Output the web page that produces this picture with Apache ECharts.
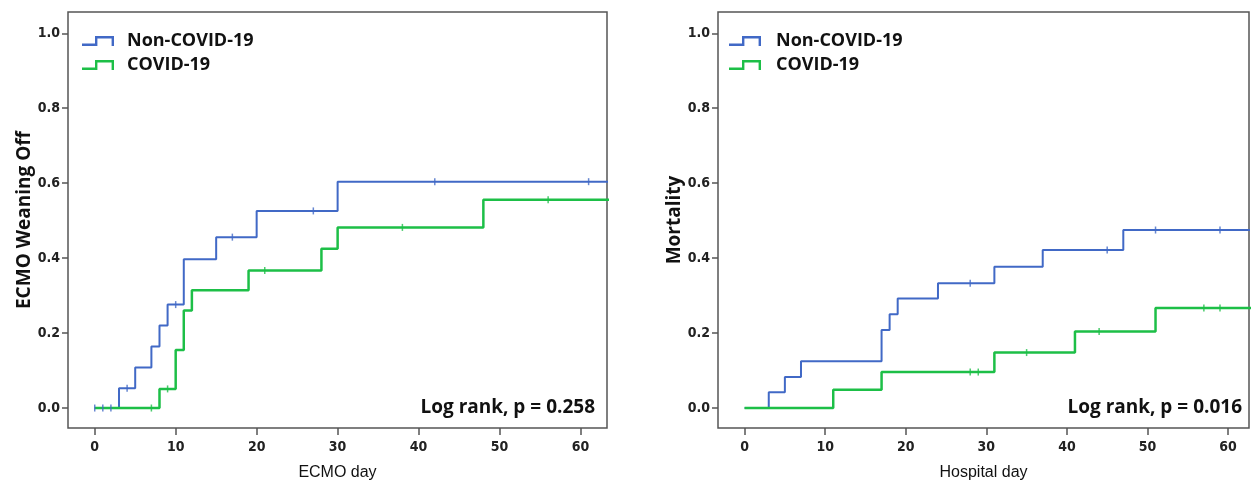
<!DOCTYPE html>
<html>
<head>
<meta charset="utf-8">
<title>ECMO weaning off / mortality</title>
<script src="https://cdn.jsdelivr.net/npm/echarts@6/dist/echarts.min.js"></script>
<style>
html, body { margin: 0; padding: 0; background: #fff; }
#chart { width: 1255px; height: 481px; }
</style>
</head>
<body>
<div id="chart"></div>
<script>
var groups = ['Non-COVID-19', 'COVID-19']
var xTicks = [0, 10, 20, 30, 40, 50, 60]
var yTicks = [0, 0.2, 0.4, 0.6, 0.8, 1.0]

// ECMO weaning off (left): step times and cumulative values
var ecmoNonDays = [0, 3, 5, 7, 8, 9, 11, 15, 20, 30, 66]
var ecmoNonVals = [0, 0.053, 0.108, 0.164, 0.22, 0.276, 0.397, 0.456, 0.526, 0.604, 0.604]
var ecmoNonCensor = [0, 1, 2, 4, 10, 17, 27, 42, 61]
var ecmoCovDays = [0, 8, 10, 11, 12, 19, 28, 30, 48, 66]
var ecmoCovVals = [0, 0.051, 0.155, 0.26, 0.314, 0.367, 0.425, 0.482, 0.556, 0.556]
var ecmoCovCensor = [7, 9, 21, 38, 56]

// Mortality (right)
var mortNonDays = [0, 3, 5, 7, 17, 18, 19, 24, 31, 37, 47, 66]
var mortNonVals = [0, 0.042, 0.083, 0.125, 0.208, 0.25, 0.292, 0.333, 0.377, 0.422, 0.475, 0.475]
var mortNonCensor = [28, 45, 51, 59]
var mortCovDays = [0, 11, 17, 31, 41, 51, 66]
var mortCovVals = [0, 0.049, 0.096, 0.148, 0.204, 0.267, 0.267]
var mortCovCensor = [28, 29, 35, 44, 57, 59]

var pValues = ['Log rank, p = 0.258', 'Log rank, p = 0.016']

var blue = '#4169c6'
var green = '#1dbf47'
var tickFont = "'Liberation Sans Narrow', 'Arial Narrow', 'DejaVu Sans Condensed', sans-serif"
var textFont = "'Open Sans', 'Noto Sans', sans-serif"
var stepIcon = 'path://M0,7.6 L13,7.6 L13,0 L32,0 L32,10 L29.6,10 L29.6,2.4 L15.4,2.4 L15.4,10 L0,10 Z'

function pairs(days, vals) {
  var out = []
  for (var i = 0; i < days.length; i++) {
    out.push([days[i], vals[i]])
  }
  return out
}

// censored marks sit on the curve at their time
function censorPoints(times, days, vals) {
  var out = []
  for (var i = 0; i < times.length; i++) {
    var v = vals[0]
    for (var j = 0; j < days.length; j++) {
      if (days[j] <= times[i]) v = vals[j]
    }
    out.push([times[i], v])
  }
  return out
}

function curve(name, days, vals, color, width, idx) {
  return {
    name: name,
    type: 'line',
    step: 'end',
    xAxisIndex: idx,
    yAxisIndex: idx,
    showSymbol: false,
    clip: true,
    color: color,
    lineStyle: { color: color, width: width },
    data: pairs(days, vals),
  }
}

function censor(name, times, days, vals, color, idx) {
  return {
    name: name + ' censored',
    type: 'scatter',
    xAxisIndex: idx,
    yAxisIndex: idx,
    symbol: 'rect',
    symbolSize: [1.5, 7],
    silent: true,
    z: 3,
    itemStyle: { color: color },
    data: censorPoints(times, days, vals),
  }
}

function xAxis(idx, max, name) {
  return {
    type: 'value',
    gridIndex: idx,
    min: -3.3,
    max: max,
    name: name,
    nameLocation: 'middle',
    nameGap: 37,
    nameTextStyle: { fontSize: 16, fontFamily: "'Liberation Sans', Arial, sans-serif", color: '#111' },
    axisLine: { show: false, onZero: false },
    splitLine: { show: false },
    axisTick: { show: true, customValues: xTicks, length: 7, lineStyle: { color: '#555', width: 1.5 } },
    axisLabel: {
      customValues: xTicks,
      margin: 12,
      fontSize: 14,
      fontWeight: 'bold',
      fontFamily: tickFont,
      color: '#222',
    },
  }
}

function yAxis(idx, name) {
  return {
    type: 'value',
    gridIndex: idx,
    min: -0.0533,
    max: 1.0568,
    name: name,
    nameLocation: 'middle',
    nameGap: 34,
    nameTextStyle: { fontSize: 19, fontWeight: 'bold', fontFamily: textFont, color: '#111' },
    axisLine: { show: false, onZero: false },
    splitLine: { show: false },
    axisTick: { show: true, customValues: yTicks, length: 6, lineStyle: { color: '#555', width: 1.5 } },
    axisLabel: {
      customValues: yTicks,
      margin: 8,
      fontSize: 14,
      fontWeight: 'bold',
      fontFamily: tickFont,
      color: '#222',
      formatter: function (v) {
        return v.toFixed(1)
      },
    },
  }
}

function legend(left, gap) {
  return {
    left: left,
    top: 31,
    orient: 'vertical',
    padding: 0,
    itemWidth: 32,
    itemHeight: 10,
    itemGap: 4,
    icon: stepIcon,
    selectedMode: false,
    data: groups,
    textStyle: {
      fontSize: 18,
      fontWeight: 'bold',
      fontFamily: textFont,
      color: '#111',
      lineHeight: 20,
      padding: [0, 0, 0, gap],
    },
  }
}

var gridBase = {
  show: true,
  top: 12,
  height: 416,
  outerBoundsMode: 'none',
  containLabel: false,
  borderColor: '#555',
  borderWidth: 1.5,
  backgroundColor: '#fff',
}

var chart = echarts.init(document.getElementById('chart'))
chart.setOption({
  animation: false,
  backgroundColor: '#fff',
  color: [blue, green],
  grid: [
    Object.assign({ left: 68, width: 539 }, gridBase),
    Object.assign({ left: 718, width: 531 }, gridBase),
  ],
  xAxis: [xAxis(0, 63.27, 'ECMO day'), xAxis(1, 62.6, 'Hospital day')],
  yAxis: [yAxis(0, 'ECMO Weaning Off'), yAxis(1, 'Mortality')],
  legend: [legend(82, 8), legend(729, 10)],
  graphic: [
    {
      type: 'text',
      right: 660,
      top: 398,
      style: { text: pValues[0], fontSize: 19, fontWeight: 'bold', fontFamily: textFont, fill: '#111' },
    },
    {
      type: 'text',
      right: 13,
      top: 398,
      style: { text: pValues[1], fontSize: 19, fontWeight: 'bold', fontFamily: textFont, fill: '#111' },
    },
  ],
  series: [
    curve(groups[0], ecmoNonDays, ecmoNonVals, blue, 2, 0),
    curve(groups[1], ecmoCovDays, ecmoCovVals, green, 2.5, 0),
    censor(groups[0], ecmoNonCensor, ecmoNonDays, ecmoNonVals, blue, 0),
    censor(groups[1], ecmoCovCensor, ecmoCovDays, ecmoCovVals, green, 0),
    curve(groups[0], mortNonDays, mortNonVals, blue, 2, 1),
    curve(groups[1], mortCovDays, mortCovVals, green, 2.5, 1),
    censor(groups[0], mortNonCensor, mortNonDays, mortNonVals, blue, 1),
    censor(groups[1], mortCovCensor, mortCovDays, mortCovVals, green, 1),
  ],
})
</script>
</body>
</html>
